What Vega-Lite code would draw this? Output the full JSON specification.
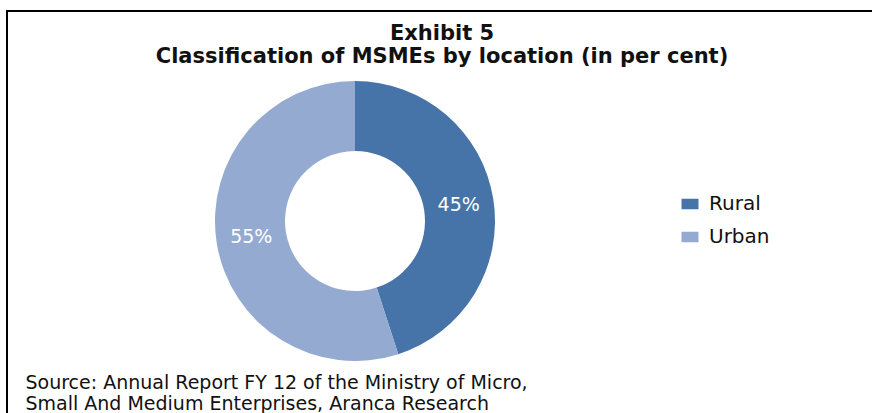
{
  "$schema": "https://vega.github.io/schema/vega-lite/v6.json",
  "width": 870,
  "height": 420,
  "autosize": {"type": "none"},
  "padding": {"left": 7, "top": 11, "right": 0, "bottom": 0},
  "background": "white",
  "title": {
    "text": ["Exhibit 5", "Classification of MSMEs by location (in per cent)"],
    "anchor": "middle",
    "frame": "group",
    "orient": "top",
    "offset": -56,
    "baseline": "top",
    "font": "DejaVu Sans",
    "fontSize": 21,
    "fontWeight": "bold",
    "lineHeight": 23,
    "color": "#111111"
  },
  "data": {
    "values": [
      {"location": "Rural", "share": 0.45},
      {"location": "Urban", "share": 0.55}
    ]
  },
  "encoding": {
    "theta": {"field": "share", "type": "quantitative", "stack": true}
  },
  "layer": [
    {
      "mark": {"type": "arc", "innerRadius": 70, "outerRadius": 140},
      "encoding": {
        "color": {
          "field": "location",
          "type": "nominal",
          "scale": {"domain": ["Rural", "Urban"], "range": ["#4673a8", "#95aad0"]},
          "legend": {
            "orient": "none",
            "legendX": 673,
            "legendY": 183,
            "title": null,
            "symbolType": "M-1,-0.62H1V0.62H-1Z",
            "symbolSize": 289,
            "symbolStrokeWidth": 0,
            "labelFontSize": 20,
            "labelFont": "DejaVu Sans",
            "labelColor": "#111111",
            "rowPadding": 13,
            "labelOffset": 9
          }
        },
        "x": {
          "datum": "MSMEs",
          "type": "nominal",
          "scale": {"align": 0.4},
          "axis": {
            "orient": "top",
            "domain": false,
            "ticks": false,
            "labels": false,
            "grid": false,
            "title": ["Source: Annual Report FY 12 of the Ministry of Micro,", "Small And Medium Enterprises, Aranca Research"],
            "titleX": 18,
            "titleY": 362,
            "titleAlign": "left",
            "titleAnchor": "start",
            "titleBaseline": "top",
            "titleFont": "DejaVu Sans",
            "titleFontSize": 19,
            "titleFontWeight": "normal",
            "titleColor": "#111111",
            "titleLineHeight": 21
          }
        }
      }
    },
    {
      "mark": {"type": "text", "radius": 105, "fill": "white", "fontSize": 19, "font": "DejaVu Sans"},
      "encoding": {
        "x": {"datum": "MSMEs", "type": "nominal"},
        "text": {"field": "share", "type": "quantitative", "format": ".0%"},
        "detail": {"field": "location"}
      }
    }
  ],
  "config": {"view": {"stroke": "black", "strokeWidth": 2}}
}
